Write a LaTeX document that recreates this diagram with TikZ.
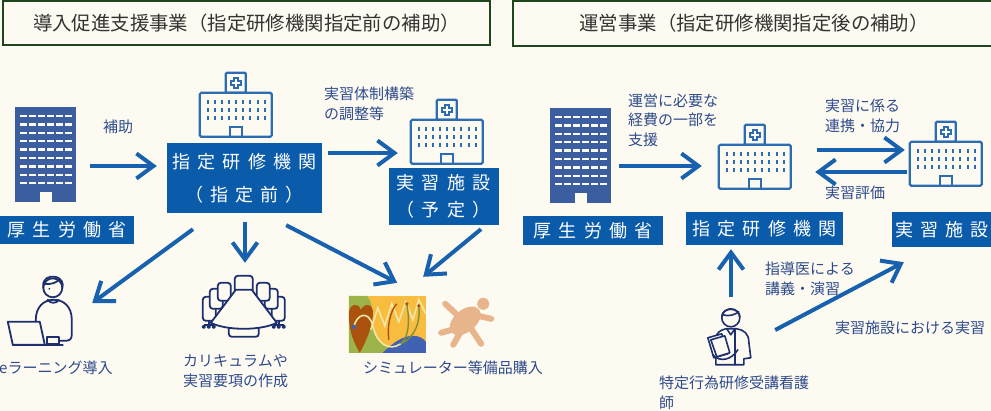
\documentclass[tikz,border=0pt]{standalone}
\usepackage{fontspec}
\setmainfont{Noto Sans CJK JP}
\newfontfamily\boxfont[LetterSpace=40]{Noto Sans CJK JP}
\usetikzlibrary{arrows.meta, calc, positioning}

\definecolor{paper}{HTML}{FDFBF1}
\definecolor{hdrgreen}{HTML}{1E461C}
\definecolor{boxblue}{HTML}{0B5BAB}
\definecolor{arrblue}{HTML}{1761AE}
\definecolor{iconblue}{HTML}{2B6CB3}
\definecolor{bldblue}{HTML}{3B5EA0}
\definecolor{txtblue}{HTML}{2E4A8C}
\definecolor{navy}{HTML}{1D2F6E}
\definecolor{simorange}{HTML}{F8BC3E}
\definecolor{simgreen}{HTML}{9DB44A}
\definecolor{simbrown}{HTML}{A9530F}
\definecolor{simblue}{HTML}{3F62B2}
\definecolor{simpale}{HTML}{F1E7A6}
\definecolor{skin}{HTML}{E7B48B}

\tikzset{
  hdr/.style={draw=hdrgreen, line width=2pt, fill=paper, inner sep=0pt,
    text=black!80, font=\fontsize{19.4}{22}\selectfont},
  bluebox/.style={fill=boxblue, text=white, inner sep=0pt, align=center,
    font=\boxfont\fontsize{18}{33}\selectfont},
  lbl/.style={text=txtblue, anchor=west, inner sep=0pt, align=left,
    font=\fontsize{15}{19.5}\selectfont},
  arr/.style={draw=arrblue, line width=4pt,
    -{Straight Barb[length=17pt, width=25pt]}},
  iconsize/.style args={#1 by #2}{inner sep=0pt, minimum width=#1pt,
    minimum height=#2pt},
  % icons, origin at the top left corner
  ministry/.pic={
    \fill[bldblue] (0,0) rectangle (61,95);
    \foreach \r in {0,...,8}
      \foreach \c in {0,...,5}
        \fill[paper] ({5+9*\c},{8+8.4*\r}) rectangle ++(7,2.4);
    \fill[paper] (25,85) rectangle (37,95);
  },
  hospital/.pic={
    \begin{scope}[draw=iconblue, line width=2.2pt, fill=paper]
      \filldraw[rounded corners=1pt] (26,0) rectangle (46,20);
      \filldraw[rounded corners=1.5pt] (0,20) rectangle (72,64);
      \draw[line width=1.5pt] (34,5) -- (38,5) -- (38,8) -- (41,8) -- (41,12)
        -- (38,12) -- (38,15) -- (34,15) -- (34,12) -- (31,12) -- (31,8)
        -- (34,8) -- cycle;
      \foreach \r in {0,1,2}
        \foreach \c in {0,...,8}
          \draw[line width=2pt] ({8+7.1*\c},{27+8*\r}) -- ++(0,4.5);
      \draw (30,64) -- (30,54) -- (42,54) -- (42,64);
    \end{scope}
  },
  learner/.pic={
    \begin{scope}[draw=navy, line width=1.8pt, line join=round, line cap=round]
      \filldraw[fill=paper] (30,66) -- (29,45) .. controls (29,32) and (37,25) .. (47,25)
        .. controls (57,25) and (65,32) .. (65,45) -- (65,60)
        .. controls (65,65) and (62,66) .. (58,66) -- (45,66);
      \filldraw[fill=paper] (46,13) circle [radius=9.5];
      \draw (36.5,13) .. controls (35,3) and (43,1) .. (48,2)
        .. controls (55,3) and (57,9) .. (55.5,13);
      \draw (37.5,9) .. controls (44,10) and (50,8) .. (53,4);
      \fill[navy] (42.5,14) circle [radius=1];
      \draw (41,25) .. controls (43,29) and (50,29) .. (52,25);
      \filldraw[fill=paper] (40,62) rectangle (52,69);
      \filldraw[fill=paper] (1,47) -- (33,47) -- (38,70) -- (6,70) -- cycle;
      \draw (6,70) -- (56,70);
    \end{scope}
  },
  meeting/.pic={
    \begin{scope}[draw=navy, line width=1.8pt, fill=paper, line join=round]
      \foreach \s in {1,-1} {
        \begin{scope}[shift={(39,0)}, xscale=\s]
          \filldraw[rounded corners=3pt] (-41,22) rectangle (-28,46);
          \draw (-35,46) -- (-35,50) (-40,50) -- (-30,50);
          \foreach \k in {-40,-35,-30} \draw (\k,52) circle [radius=1.3];
          \filldraw[rounded corners=3pt] (-34,14) rectangle (-21,34);
          \filldraw[rounded corners=3pt] (-26,8) rectangle (-13,26);
        \end{scope}
      }
      \filldraw[rounded corners=3pt] (30,1) rectangle (48,18);
      \filldraw[rounded corners=3pt] (24,50) rectangle (54,62);
      \filldraw (31,15) -- (47,15) -- (72,48) .. controls (56,56) and (22,56) .. (6,48) -- cycle;
    \end{scope}
  },
  trainee/.pic={
    \begin{scope}[draw=navy, line width=1.6pt, fill=paper, line join=round, line cap=round]
      \filldraw (8,57) -- (8,31) .. controls (8,25) and (13,22) .. (18,21) -- (29,21)
        .. controls (36,22) and (41,26) .. (41,34) -- (43,50) -- (36,51) -- (36,57) -- cycle;
      \draw (27,21) -- (27,57);
      \draw (19,21) -- (23,27) -- (27,21);
      \filldraw (23,10) circle [radius=9];
      \draw (14,9) .. controls (14,-1) and (32,-1) .. (32,9);
      \draw (15,7) .. controls (21,9) and (27,7) .. (31,4);
      \filldraw (0,30) -- (14,26) -- (20,46) -- (6,50) -- cycle;
      \filldraw (3,32) -- (17,28) -- (22,45) -- (9,49) -- cycle;
      \draw (5,47) .. controls (12,55) and (24,52) .. (30,42);
    \end{scope}
  },
  simulator/.pic={
    \begin{scope}
      \clip (0,0) rectangle (77,57);
      \fill[simorange] (0,0) rectangle (77,57);
      \fill[simgreen] (0,0) -- (18,0) .. controls (28,10) and (20,30) .. (28,42)
        .. controls (34,50) and (42,52) .. (44,57) -- (0,57) -- cycle;
      \fill[simbrown] (11,57) .. controls (2,42) and (0,30) .. (0,18)
        .. controls (0,8) and (10,6) .. (12,14) .. controls (16,6) and (26,8) .. (24,20)
        .. controls (23,32) and (18,44) .. (11,57) -- cycle;
      \fill[simblue] (34,57) .. controls (44,47) and (54,40) .. (64,40)
        .. controls (71,40) and (75,43) .. (77,46) -- (77,57) -- cycle;
      \draw[simpale, line width=1.6pt] (22,34) -- (29,12) -- (36,30) -- (43,8)
        -- (50,26) -- (57,6) -- (64,24) -- (70,4) -- (77,18);
      \draw[simpale, line width=1.6pt] (5,31) .. controls (8,18) and (20,14) .. (24,30)
        .. controls (28,48) and (40,56) .. (52,48);
      \draw[simgreen!80!black, line width=1.4pt] (52,48) .. controls (62,40) and (60,18) .. (58,8)
        (52,48) .. controls (66,42) and (72,26) .. (70,10);
      \draw[simbrown, line width=1.4pt] (40,44) .. controls (38,30) and (42,14) .. (48,8);
      \fill[simblue] (5,31) circle [radius=2.2];
      \fill[simbrown] (58,8) circle [radius=1.8] (70,10) circle [radius=1.8];
    \end{scope}
  },
  manikin/.pic={
    \begin{scope}[draw=skin, line width=6pt, line cap=round]
      \draw (22,22) -- (8,9);
      \draw (36,20) -- (54,24);
      \draw (18,34) -- (4,38);
      \draw (24,36) -- (16,50);
      \draw (34,34) -- (44,49);
      \fill[skin, rotate around={40:(28,26)}] (28,26) ellipse [x radius=18, y radius=11];
      \fill[skin] (46,9) circle [radius=6];
    \end{scope}
  }
}

\begin{document}
\begin{tikzpicture}[x=1pt, y=-1pt]
  \useasboundingbox (0,0) rectangle (991,411);
  \fill[paper] (0,0) rectangle (991,411);

  % headings
  \node[hdr, minimum width=487pt, minimum height=44pt] (hdrL) at (246.5,23)
    {導入促進支援事業（指定研修機関指定前の補助）};
  \node[hdr, minimum width=482pt, minimum height=45pt] (hdrR) at (754,23.5)
    {運営事業（指定研修機関指定後の補助）};

  % --- before designation ---
  \node[iconsize=61 by 95] (bldL) at (45.5,154.5) {};
  \pic at (bldL.north west) {ministry};
  \node[iconsize=72 by 64] (hospL) at (236,105) {};
  \pic at (hospL.north west) {hospital};
  \node[iconsize=72 by 64] (hospLs) at (447,132) {};
  \pic at (hospLs.north west) {hospital};

  \node[bluebox, minimum width=134pt, minimum height=28pt] (mhlwL) at (67,230) {厚生労働省};
  \node[bluebox, minimum width=155pt, minimum height=70pt] (instL) at (244.5,178)
    {指定研修機関\\（指定前）};
  \node[bluebox, minimum width=110pt, minimum height=57pt,
    font=\boxfont\fontsize{18}{27}\selectfont] (siteL) at (443.5,196.5)
    {実習施設\\（予定）};

  \node[iconsize=68 by 70] (pc) at (41,310) {};
  \pic at (pc.north west) {learner};
  \node[iconsize=78 by 63] (meet) at (244,306.5) {};
  \pic at (meet.north west) {meeting};
  \node[iconsize=77 by 57] (sim) at (387.5,324.5) {};
  \pic at (sim.north west) {simulator};
  \node[iconsize=56 by 50] (doll) [right=11pt of sim, yshift=4.5pt] {};
  \pic at (doll.north west) {manikin};

  \node[lbl] (hojo) at (103,127) {補助};
  \node[lbl] (taisei) at (324,104) {実習体制構築\\の調整等};
  \node[lbl] (elearn) at (-1,368) {eラーニング導入};
  \node[lbl] (curri) at (183,371) {カリキュラムや\\実習要項の作成};
  \node[lbl] (buy) at (363,368) {シミュレーター等備品購入};

  \draw[arr] ($(bldL.east)+(14,11.5)$) -- ($(instL.west)+(-10,-12)$);
  \draw[arr] ($(instL.east)+(6,-25)$) -- ($(hospLs.west)+(-13,21)$);
  \draw[arr] ($(instL.south)+(-51.5,16)$) -- ($(pc.east)+(17,-7)$);
  \draw[arr] ($(instL.south)+(0.5,9)$) -- ($(meet.north)+(1,-12)$);
  \draw[arr] ($(instL.south east)+(-36,12)$) -- ($(sim.north east)+(-29,-13)$);
  \draw[arr] ($(siteL.south)+(37.5,4)$) -- ($(sim.north east)+(-3,-19)$);

  % --- after designation ---
  \node[iconsize=61 by 95] (bldR) at (580.5,155.5) {};
  \pic at (bldR.north west) {ministry};
  \node[iconsize=72 by 64] (hospR) at (755,157) {};
  \pic at (hospR.north west) {hospital};
  \node[iconsize=72 by 64] (hospRs) at (946,154) {};
  \pic at (hospRs.north west) {hospital};

  \node[bluebox, minimum width=140pt, minimum height=29pt] (mhlwR) at (593,230.5) {厚生労働省};
  \node[bluebox, minimum width=157pt, minimum height=33pt] (instR) at (764.5,228.5) {指定研修機関};
  \node[bluebox, minimum width=100pt, minimum height=35pt] (siteR) at (942,229.5) {実習施設};

  \node[iconsize=44 by 60] (nurse) at (730,338) {};
  \pic at (nurse.north west) {trainee};

  \node[lbl] (unei) at (628,120) {運営に必要な\\経費の一部を\\支援};
  \node[lbl] (renkei) at (825,116) {実習に係る\\連携・協力};
  \node[lbl] (hyoka) at (825,193) {実習評価};
  \node[lbl] (shido) at (765,279) {指導医による\\講義・演習};
  \node[lbl] (jisshu) at (835,328) {実習施設における実習};
  \node[lbl] (kango) at (659,393) {特定行為研修受講看護\\師};

  \draw[arr] ($(bldR.east)+(8,10.5)$) -- ($(hospR.west)+(-17,9)$);
  \draw[arr] ($(hospR.east)+(26,-7)$) -- ($(hospRs.west)+(-5,-4)$);
  \draw[arr] ($(hospRs.west)+(-3,18)$) -- ($(hospR.east)+(24,15)$);
  \draw[arr] ($(nurse.north)+(1,-11)$) -- ($(instR.south)+(-33.5,4)$);
  \draw[arr] ($(nurse.east)+(23,-8)$) -- ($(siteR.south west)+(12,15)$);
\end{tikzpicture}
\end{document}
